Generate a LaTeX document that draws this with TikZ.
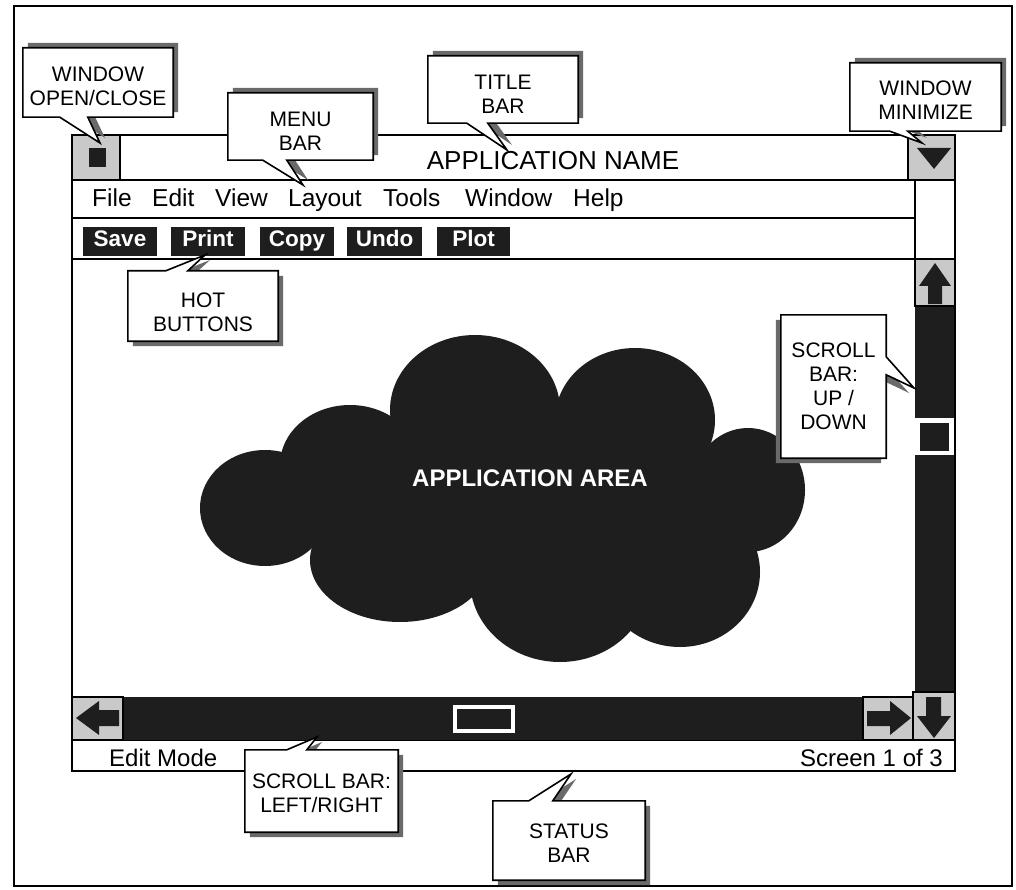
\documentclass[tikz,border=0pt]{standalone}
\usepackage{fontspec}
\setmainfont{Liberation Sans}
\usetikzlibrary{calc}
\definecolor{darkfill}{HTML}{1E1E1E}
\definecolor{boxgray}{HTML}{C9C9C9}
\definecolor{shadowgray}{HTML}{6A6A6A}
\newcommand{\calloutfont}{\fontsize{21}{24}\selectfont}
\newcommand{\menufont}{\fontsize{24.5}{28}\selectfont}
\begin{document}
\begin{tikzpicture}[x=1pt,y=-1pt,line join=miter,
  cbox/.style={rectangle,inner sep=0pt,draw=none},
  ctext/.style={inner sep=0pt,align=center,font=\calloutfont},
  callout/.style={draw=black,line width=1.6pt,fill=white},
  shTR/.style={preaction={fill=shadowgray,transform canvas={shift={(5,-5)}}}},
  shBR/.style={preaction={fill=shadowgray,transform canvas={shift={(5,5)}}}},
  shBL/.style={preaction={fill=shadowgray,transform canvas={shift={(-5,5)}}}},
  winline/.style={draw=black,line width=1.8pt},
  grayboxst/.style={fill=boxgray,draw=black,line width=1.8pt},
  hotbtn/.style={rectangle,inner sep=0pt,fill=darkfill,text=white,minimum height=29,text height=15.5,text depth=4.5,font=\fontsize{22.5}{26}\selectfont\bfseries},
  menuitem/.style={anchor=base west,inner sep=0pt,font=\menufont},
]
\useasboundingbox (0,0) rectangle (1016,890);
\fill[white] (0,0) rectangle (1016,890);
\draw[line width=1.3pt] (14,6) rectangle (1012,886);

% ---- window ----
\draw[winline,fill=white] (72,135) rectangle (955,771);
\draw[winline] (72,180) -- (955,180);
\draw[winline] (72,218) -- (915,218);
\draw[winline] (72,259) -- (915,259);
\draw[winline] (915,180) -- (915,259);
\draw[winline] (72,740) -- (955,740);
% close box
\draw[grayboxst] (72,135) rectangle (120,180);
\fill[darkfill] (89,148) rectangle (106,167);
% minimize box
\draw[grayboxst] (908,135) rectangle (955,180);
\fill[darkfill] (917,148) -- (951,148) -- (934,169) -- cycle;
% vertical scroll bar
\fill[darkfill] (915,306) rectangle (955,692);
\draw[grayboxst] (915,259) rectangle (955,306);
\fill[darkfill] (919,286) -- (935,263) -- (951,286) -- (942,286) -- (942,304) -- (928,304) -- (928,286) -- cycle;
\fill[white] (914,418) rectangle (955,455);
\fill[darkfill] (920,423) rectangle (949,451);
% horizontal scroll bar
\fill[darkfill] (123,697) rectangle (863,740);
\draw[grayboxst] (72,697) rectangle (123,740);
\fill[darkfill] (76,718) -- (99,701) -- (99,710) -- (119,710) -- (119,726) -- (99,726) -- (99,735) -- cycle;
\draw[grayboxst] (863,697) rectangle (913,740);
\fill[darkfill] (911,718) -- (890,701) -- (890,711) -- (867,711) -- (867,726) -- (890,726) -- (890,735) -- cycle;
\draw[grayboxst] (913,692) rectangle (955,740);
\fill[darkfill] (926,697) -- (941,697) -- (941,716) -- (951,716) -- (934,738) -- (917,716) -- (926,716) -- cycle;
\fill[white] (453,705) rectangle (515,733);
\fill[darkfill] (457,709) rectangle (511,729);
\draw[winline] (72,135) rectangle (955,771);

% ---- title, menu, buttons, status ----
\node[anchor=base,inner sep=0pt,font=\fontsize{26}{30}\selectfont] (title) at (553,170) {APPLICATION NAME};
\node[menuitem] (mFile) at (92,207) {File};
\node[menuitem] (mEdit) at (152,207) {Edit};
\node[menuitem] (mView) at (215,207) {View};
\node[menuitem] (mLayout) at (288,207) {Layout};
\node[menuitem] (mTools) at (383,207) {Tools};
\node[menuitem] (mWindow) at (465,207) {Window};
\node[menuitem] (mHelp) at (573,207) {Help};
\node[hotbtn,minimum width=74] (bSave) at (120,241.5) {Save};
\node[hotbtn,minimum width=74] (bPrint) at (208,241.5) {Print};
\node[hotbtn,minimum width=74] (bCopy) at (297,241.5) {Copy};
\node[hotbtn,minimum width=75] (bUndo) at (384.5,241.5) {Undo};
\node[hotbtn,minimum width=73] (bPlot) at (473.5,241.5) {Plot};
\node[anchor=base west,inner sep=0pt,font=\fontsize{24}{28}\selectfont] (stL) at (109,766) {Edit Mode};
\node[anchor=base east,inner sep=0pt,font=\fontsize{24}{28}\selectfont] (stR) at (943,766) {Screen 1 of 3};

% ---- cloud ----
\begin{scope}[darkfill]
\fill (475,410) ellipse [x radius=85,y radius=75];
\fill (635,420) ellipse [x radius=80,y radius=72];
\fill (748,490) ellipse [x radius=57,y radius=62];
\fill (680,572) ellipse [x radius=80,y radius=75];
\fill (560,580) ellipse [x radius=90,y radius=82];
\fill (400,560) ellipse [x radius=90,y radius=62];
\fill (265,508) ellipse [x radius=65,y radius=58];
\fill (350,465) ellipse [x radius=70,y radius=60];
\fill (520,500) ellipse [x radius=210,y radius=100];
\end{scope}
\node[inner sep=0pt,text=white,font=\fontsize{24}{28}\selectfont\bfseries] (area) at (530,478) {APPLICATION AREA};

% ---- callouts ----
% window open/close
\node[cbox,minimum width=150,minimum height=69] (oc) at (98,82.5) {};
\coordinate (oc-tip) at (100,143);
\path[callout,shTR] (oc.north west) -- (oc.north east) -- (oc.south east) -- ($(oc.south west)+(65,0)$) -- (oc-tip) -- ($(oc.south west)+(37,0)$) -- (oc.south west) -- cycle;
\node[ctext] (oc-t) at ($(oc.center)+(0,4)$) {WINDOW\\OPEN/CLOSE};
% menu bar
\node[cbox,minimum width=145,minimum height=67] (mb) at (300.5,126.5) {};
\coordinate (mb-tip) at (303,185);
\path[callout,shTR] (mb.north west) -- (mb.north east) -- (mb.south east) -- ($(mb.south west)+(59,0)$) -- (mb-tip) -- ($(mb.south west)+(35,0)$) -- (mb.south west) -- cycle;
\node[ctext] (mb-t) at ($(mb.center)+(0,5)$) {MENU\\BAR};
% title bar
\node[cbox,minimum width=150,minimum height=67] (tb) at (503,89.5) {};
\coordinate (tb-tip) at (507,150);
\path[callout,shTR] (tb.north west) -- (tb.north east) -- (tb.south east) -- ($(tb.south west)+(60,0)$) -- (tb-tip) -- ($(tb.south west)+(39,0)$) -- (tb.south west) -- cycle;
\node[ctext] (tb-t) at ($(tb.center)+(0,5)$) {TITLE\\BAR};
% window minimize
\node[cbox,minimum width=151,minimum height=68] (wm) at (925.5,97) {};
\coordinate (wm-tip) at (922,143);
\path[callout,shTR] (wm.north west) -- (wm.north east) -- (wm.south east) -- ($(wm.south west)+(58,0)$) -- (wm-tip) -- ($(wm.south west)+(40,0)$) -- (wm.south west) -- cycle;
\node[ctext] (wm-t) at ($(wm.center)+(0,3)$) {WINDOW\\MINIMIZE};
% hot buttons
\node[cbox,minimum width=150,minimum height=70] (hb) at (203,306) {};
\coordinate (hb-tip) at (205,255);
\path[callout,shBR] (hb.north west) -- ($(hb.north west)+(38,0)$) -- (hb-tip) -- ($(hb.north west)+(60,0)$) -- (hb.north east) -- (hb.south east) -- (hb.south west) -- cycle;
\node[ctext] (hb-t) at ($(hb.center)+(0,6)$) {HOT\\BUTTONS};
% scroll bar up/down
\node[cbox,minimum width=105,minimum height=143] (su) at (833.5,386.5) {};
\coordinate (su-tip) at (914,388);
\path[callout,shBL] (su.north west) -- (su.north east) -- ($(su.north east)+(0,42)$) -- (su-tip) -- ($(su.north east)+(0,60)$) -- (su.south east) -- (su.south west) -- cycle;
\node[ctext] (su-t) at ($(su.center)+(0,0)$) {SCROLL\\BAR:\\UP /\\DOWN};
% scroll bar left/right
\node[cbox,minimum width=153,minimum height=82] (slr) at (321.5,791) {};
\coordinate (slr-tip) at (317,737);
\path[callout,shBR] (slr.north west) -- ($(slr.north west)+(42,0)$) -- (slr-tip) -- ($(slr.north west)+(62,0)$) -- (slr.north east) -- (slr.south east) -- (slr.south west) -- cycle;
\node[ctext] (slr-t) at ($(slr.center)+(0,2)$) {SCROLL BAR:\\LEFT/RIGHT};
% status bar
\node[cbox,minimum width=152,minimum height=79] (sb) at (569,840.5) {};
\coordinate (sb-tip) at (571,774);
\path[callout,shBR] (sb.north west) -- ($(sb.north west)+(36,0)$) -- (sb-tip) -- ($(sb.north west)+(60,0)$) -- (sb.north east) -- (sb.south east) -- (sb.south west) -- cycle;
\node[ctext] (sb-t) at ($(sb.center)+(0,3)$) {STATUS\\BAR};
\end{tikzpicture}
\end{document}
